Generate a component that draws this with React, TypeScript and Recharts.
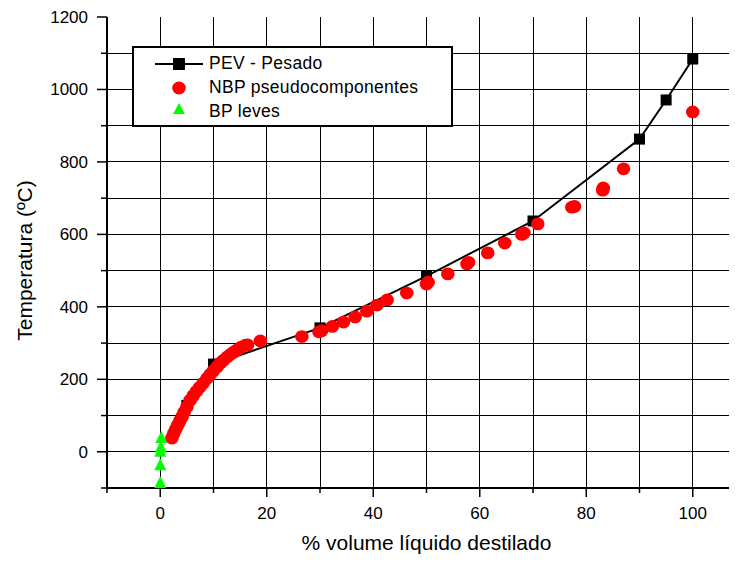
import React from 'react';
import { ScatterChart, Scatter, XAxis, YAxis, CartesianGrid, Legend, Label } from 'recharts';

const seriesNames = ['PEV - Pesado', 'NBP pseudocomponentes', 'BP leves'];
const xTitle = '% volume líquido destilado';
const yTitle = 'Temperatura (ºC)';

const pevX = [5, 10, 30, 50, 70, 90, 95, 100];
const pevY = [128, 242, 342, 485, 637, 863, 971, 1084];

const nbpX = [2.2, 2.5, 2.9, 3.3, 3.7, 4.1, 4.5, 5.0, 5.6, 6.2, 6.8, 7.4, 8.1, 8.8, 9.4, 10.0, 10.7, 11.3, 11.9, 12.6, 13.2, 13.8, 14.4, 15.2, 16.0, 16.4, 18.8,
  26.6, 29.8, 30.3, 32.3, 34.4, 36.6, 38.8, 40.7, 42.6, 46.3, 50.0, 50.3, 54.0, 57.6, 57.9, 61.5, 64.7, 67.9, 68.3, 70.9, 77.3, 77.8, 83.1, 83.2, 87.0, 100];
const nbpY = [38, 50, 62, 74, 86, 97, 110, 124, 142, 155, 167, 178, 190, 203, 214, 224, 235, 245, 253, 262, 269, 275, 281, 289, 294, 295, 306,
  318, 331, 334, 346, 358, 372, 388, 405, 419, 438, 463, 468, 491, 518, 523, 549, 576, 600, 604, 629, 675, 677, 722, 728, 781, 938];

const bpX = [0, 0, 0, 0.1, 0.2];
const bpY = [-86, -37, 0, 12, 38];

const xTicks = [-10, 0, 10, 20, 30, 40, 50, 60, 70, 80, 90, 100, 110];
const xTickLabels = [0, 20, 40, 60, 80, 100];
const xGrid = [0, 10, 20, 30, 40, 50, 60, 70, 80, 90, 100, 110];
const yTicks = [-100, 0, 100, 200, 300, 400, 500, 600, 700, 800, 900, 1000, 1100, 1200];
const yTickLabels = [0, 200, 400, 600, 800, 1000, 1200];
const yGrid = [-100, 0, 100, 200, 300, 400, 500, 600, 700, 800, 900, 1000, 1100];

const pevData = pevX.map((x, i) => ({ x, y: pevY[i] }));
const nbpData = nbpX.map((x, i) => ({ x, y: nbpY[i] }));
const bpData = bpX.map((x, i) => ({ x, y: bpY[i] }));

const FONT = '"Liberation Sans", Arial, sans-serif';

const XTick = (props: any) => {
  const { x, y, payload } = props;
  const v = payload.value;
  const major = xTickLabels.includes(v);
  return (
    <g>
      <line x1={x} x2={x} y1={y} y2={y + (major ? 9 : 5)} stroke="#000" strokeWidth={1.5} />
      {major && (
        <text x={x} y={y + 31} textAnchor="middle" fontSize={17} fontFamily={FONT} fill="#000">{v}</text>
      )}
    </g>
  );
};

const YTick = (props: any) => {
  const { x, y, payload } = props;
  const v = payload.value;
  const major = yTickLabels.includes(v);
  return (
    <g>
      <line x1={x} x2={x - (major ? 10 : 6)} y1={y} y2={y} stroke="#000" strokeWidth={1.5} />
      {major && (
        <text x={x - 19} y={y + 6} textAnchor="end" fontSize={17} fontFamily={FONT} fill="#000">{v}</text>
      )}
    </g>
  );
};

const Square = (p: any) => <rect x={p.cx - 5.5} y={p.cy - 5.5} width={11} height={11} fill="#000" />;
const Dot = (p: any) => <ellipse cx={p.cx} cy={p.cy} rx={6.8} ry={6.4} fill="#ff0000" />;
const Tri = (p: any) => (
  <polygon points={`${p.cx},${p.cy - 7} ${p.cx + 6},${p.cy + 5} ${p.cx - 6},${p.cy + 5}`} fill="#00ff00" />
);

const LegendBox = () => (
  <div style={{ width: 321, height: 81, border: '2px solid #000', background: '#fff', boxSizing: 'border-box' }}>
    <svg width={317} height={77} style={{ display: 'block' }}>
      <line x1={21} x2={69} y1={16} y2={16} stroke="#000" strokeWidth={2} />
      <rect x={39} y={10} width={12} height={12} fill="#000" />
      <ellipse cx={45} cy={40} rx={6.8} ry={6.4} fill="#ff0000" />
      <polygon points="45,55 51,66 39,66" fill="#00ff00" />
      <text x={75} y={21} fontSize={17.5} letterSpacing={0.3} fontFamily={FONT} fill="#000">{seriesNames[0]}</text>
      <text x={75} y={45} fontSize={17.5} letterSpacing={0.3} fontFamily={FONT} fill="#000">{seriesNames[1]}</text>
      <text x={75} y={69} fontSize={17.5} letterSpacing={0.3} fontFamily={FONT} fill="#000">{seriesNames[2]}</text>
    </svg>
  </div>
);

export default function App() {
  return (
    <div style={{ width: 729, height: 554, overflow: 'hidden', marginBottom: -8, position: 'relative' }}>
      <ScatterChart width={760} height={554} margin={{ top: 9, right: 22, bottom: 0, left: 0 }}>
        <CartesianGrid stroke="#000" strokeWidth={1} shapeRendering="crispEdges" horizontalValues={yGrid} verticalValues={xGrid} />
        <XAxis
          type="number"
          dataKey="x"
          domain={[-10, 110]}
          ticks={xTicks}
          interval={0}
          tickSize={0}
          tickMargin={0}
          tickLine={false}
          tick={<XTick />}
          axisLine={{ stroke: '#000', strokeWidth: 2 }}
          height={74}
          allowDataOverflow
        >
          <Label
            content={(p: any) => {
              const vb = p.viewBox;
              return (
                <text x={vb.x + vb.width / 2} y={vb.y + 62} textAnchor="middle" fontSize={21} fontFamily={FONT} fill="#000">
                  {xTitle}
                </text>
              );
            }}
          />
        </XAxis>
        <YAxis
          type="number"
          dataKey="y"
          domain={[-100, 1200]}
          ticks={yTicks}
          interval={0}
          tickSize={0}
          tickMargin={0}
          tickLine={false}
          tick={<YTick />}
          axisLine={{ stroke: '#000', strokeWidth: 2 }}
          width={99}
          allowDataOverflow
        >
          <Label
            content={(p: any) => {
              const vb = p.viewBox;
              const cx = vb.x + 24;
              const cy = vb.y + vb.height / 2 + 8;
              return (
                <text x={cx} y={cy} transform={`rotate(-90 ${cx} ${cy})`} textAnchor="middle" fontSize={21} fontFamily={FONT} fill="#000">
                  {yTitle}
                </text>
              );
            }}
          />
        </YAxis>
        <Legend
          content={<LegendBox />}
          layout="vertical"
          align="center"
          verticalAlign="middle"
          wrapperStyle={{ left: 124, top: 38, width: 321, height: 81 }}
        />
        <Scatter name={seriesNames[0]} data={pevData} shape={Square} line={{ stroke: '#000', strokeWidth: 2 }} lineType="joint" isAnimationActive={false} />
        <Scatter name={seriesNames[1]} data={nbpData} shape={Dot} isAnimationActive={false} />
        <Scatter name={seriesNames[2]} data={bpData} shape={Tri} isAnimationActive={false} />
      </ScatterChart>
    </div>
  );
}
